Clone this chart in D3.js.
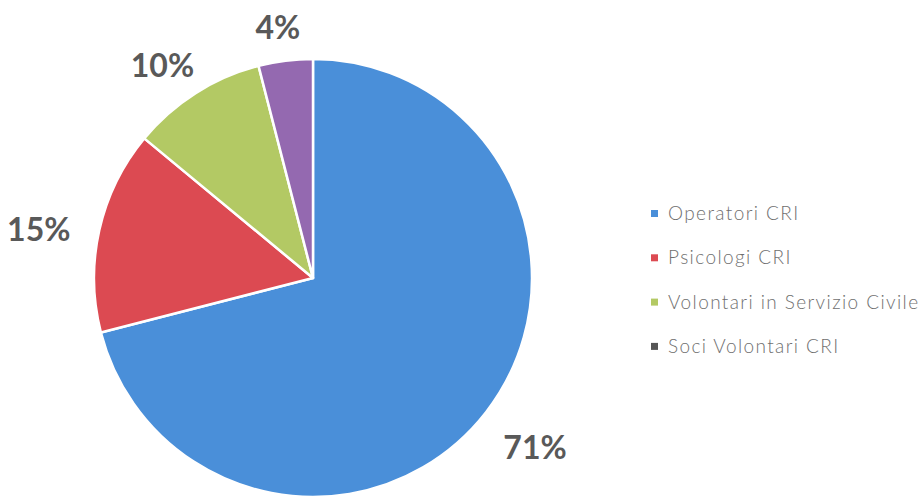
<!DOCTYPE html>
<html>
<head>
<meta charset="utf-8">
<script src="https://cdn.jsdelivr.net/npm/d3@7/dist/d3.min.js"></script>
<style>
  html, body { margin: 0; padding: 0; background: #fff; }
  svg { display: block; }
</style>
</head>
<body>
<svg id="chart" width="920" height="497"></svg>
<script>
// Ripartizione del personale coinvolto (valori percentuali)
const categories = ["Operatori CRI", "Psicologi CRI", "Volontari in Servizio Civile", "Soci Volontari CRI"];
const values = [71, 15, 10, 4];
const sliceColors = ["#4a8fd9", "#dc4a52", "#b3c964", "#9469b0"];
const legendColors = ["#4a8fd9", "#dc4a52", "#b3c964", "#555555"];

const svg = d3.select("#chart");
const cx = 313, cy = 278, R = 219;

const data = categories.map((c, i) => ({ name: c, value: values[i] }));

const pie = d3.pie().value(d => d.value).sort(null);
const arcs = pie(data);
const arc = d3.arc().innerRadius(0).outerRadius(R);

const g = svg.append("g").attr("transform", `translate(${cx},${cy})`);

g.selectAll("path.slice")
  .data(arcs)
  .join("path")
  .attr("class", "slice")
  .attr("d", arc)
  .attr("fill", (d, i) => sliceColors[i])
  .attr("stroke", "#ffffff")
  .attr("stroke-width", 2.5)
  .attr("stroke-linejoin", "round");

// Etichette percentuali all'esterno della torta
const labelR = R + 30;
const halfW = 32, halfH = 13;
g.selectAll("text.pct")
  .data(arcs)
  .join("text")
  .attr("class", "pct")
  .each(function(d) {
    const a = (d.startAngle + d.endAngle) / 2;
    const dx = Math.sin(a), dy = -Math.cos(a);
    d3.select(this)
      .attr("x", labelR * dx + halfW * dx)
      .attr("y", labelR * dy + halfH * dy + 8);
  })
  .attr("text-anchor", "middle")
  .attr("dominant-baseline", "central")
  .attr("font-family", "Lato, 'Open Sans', sans-serif")
  .attr("font-weight", "bold")
  .attr("font-size", 32)
  .attr("fill", "#595959")
  .text(d => d.data.value + "%");

// Legenda
const legend = svg.append("g").attr("transform", "translate(651,220)");
const rowH = 44.3;
const items = legend.selectAll("g.item")
  .data(categories)
  .join("g")
  .attr("class", "item")
  .attr("transform", (d, i) => `translate(0,${i * rowH})`);

items.append("rect")
  .attr("x", 0)
  .attr("y", -10)
  .attr("width", 7)
  .attr("height", 7)
  .attr("fill", (d, i) => legendColors[i]);

items.append("text")
  .attr("x", 17)
  .attr("y", 0)
  .attr("font-family", "Lato, 'Open Sans', sans-serif")
  .attr("font-weight", 300)
  .attr("font-size", 19)
  .attr("letter-spacing", 1.4)
  .attr("fill", "#6f6f6f")
  .text(d => d);
</script>
</body>
</html>
